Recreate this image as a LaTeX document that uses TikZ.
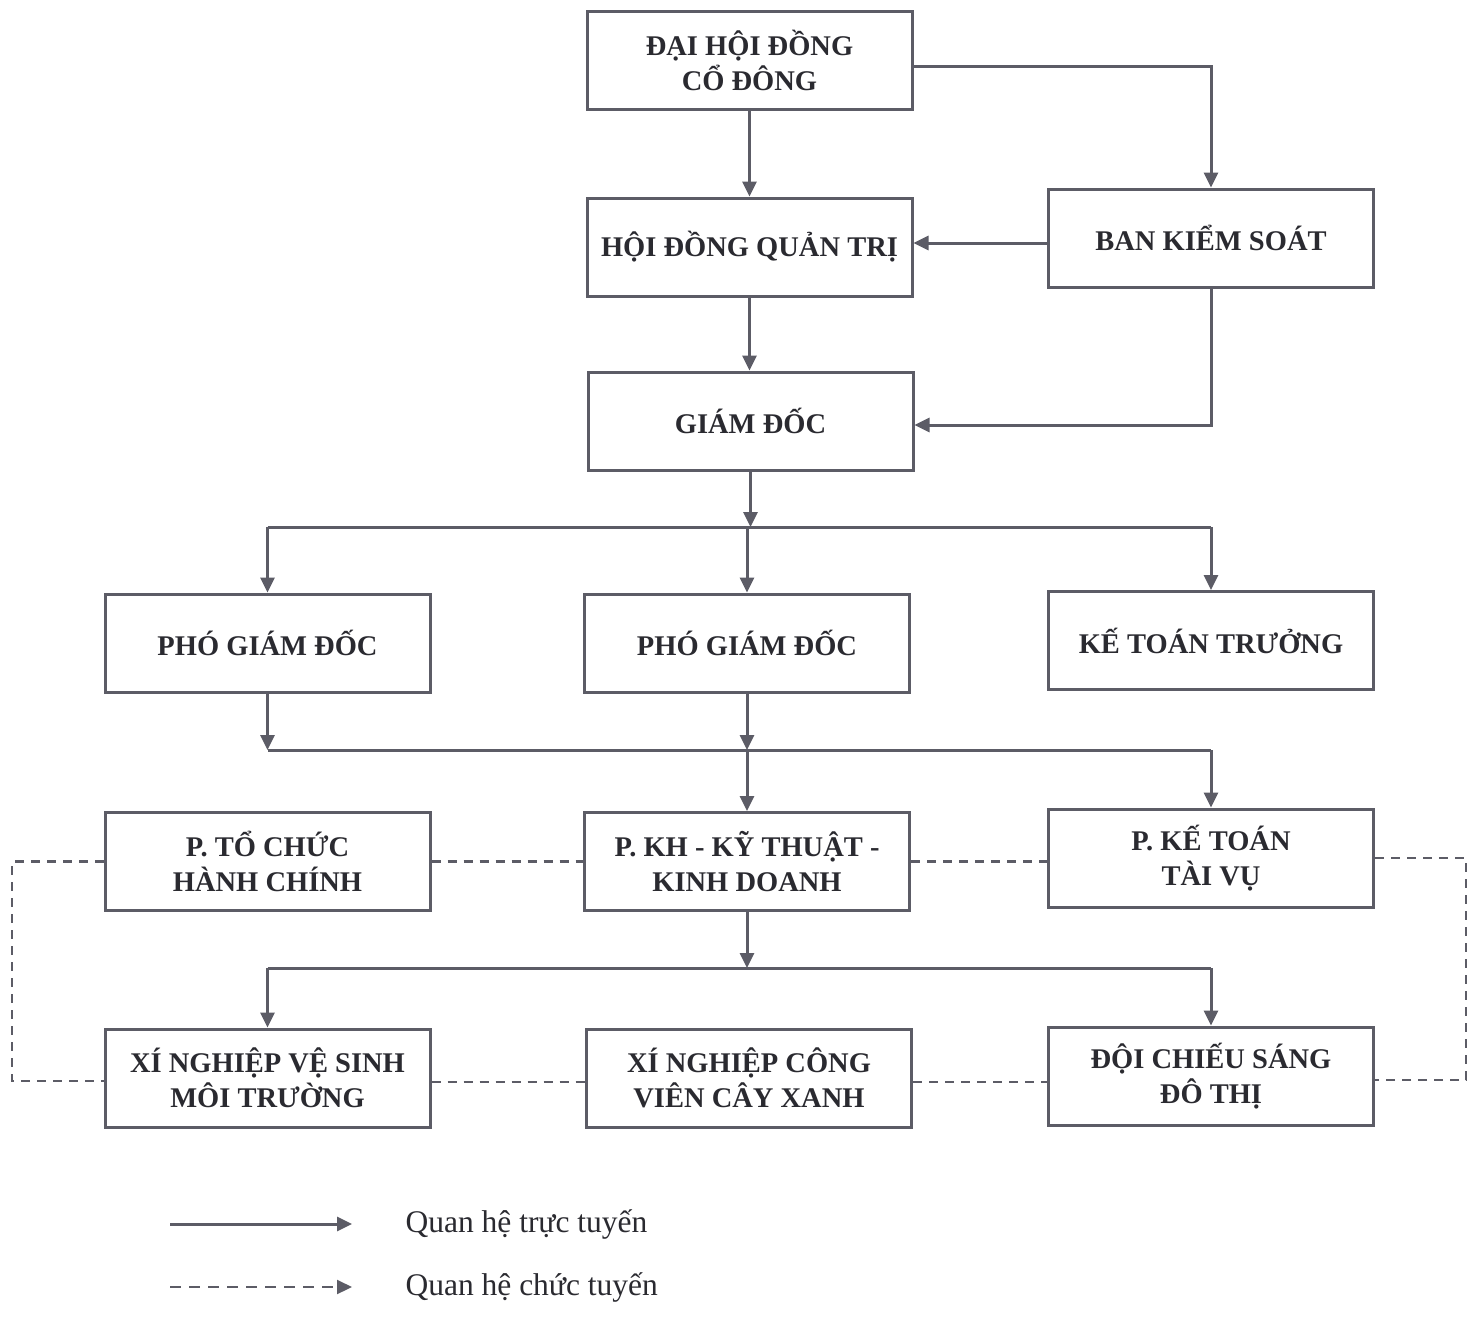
\documentclass[tikz,border=0pt]{standalone}
\usepackage{fontspec}
\setmainfont{Liberation Serif}
\usetikzlibrary{arrows.meta}
\definecolor{lc}{RGB}{92,92,102}
\definecolor{tc}{RGB}{42,42,48}
\tikzset{
  box/.style={draw=lc, line width=3pt, minimum width=325pt, minimum height=98pt, align=center, text=tc, font=\fontsize{28.5}{35}\selectfont\bfseries, inner sep=2pt},
  conn/.style={draw=lc, line width=3pt},
  arr/.style={conn, -{Triangle[length=15pt,width=14pt]}},
  dsh/.style={draw=lc, line width=2.2pt, dash pattern=on 9pt off 7pt},
  legtext/.style={anchor=west, text=tc, font=\fontsize{31.5}{38}\selectfont}
}
\begin{document}
\begin{tikzpicture}[x=1pt,y=-1pt]
\useasboundingbox (0,0) rectangle (1478,1317);
\fill[white] (0,0) rectangle (1478,1317);
\node[box] (dh) at (749.5,60.5) {ĐẠI HỘI ĐỒNG\\CỔ ĐÔNG};
\node[box] (hd) at (749.5,247) {HỘI ĐỒNG QUẢN TRỊ};
\node[box] (bks) at (1211,238) {BAN KIỂM SOÁT};
\node[box] (gd) at (750.5,421) {GIÁM ĐỐC};
\node[box] (pg1) at (267.5,643) {PHÓ GIÁM ĐỐC};
\node[box] (pg2) at (747,643) {PHÓ GIÁM ĐỐC};
\node[box] (ktt) at (1211,640.5) {KẾ TOÁN TRƯỞNG};
\node[box] (tcb) at (267.5,861.5) {P. TỔ CHỨC\\HÀNH CHÍNH};
\node[box] (kh) at (747,861.5) {P. KH - KỸ THUẬT -\\KINH DOANH};
\node[box] (kt) at (1211,858) {P. KẾ TOÁN\\TÀI VỤ};
\node[box] (xn1) at (267.5,1078) {XÍ NGHIỆP VỆ SINH\\MÔI TRƯỜNG};
\node[box] (xn2) at (749,1078) {XÍ NGHIỆP CÔNG\\VIÊN CÂY XANH};
\node[box] (dcs) at (1211,1076) {ĐỘI CHIẾU SÁNG\\ĐÔ THỊ};
\coordinate (b1) at (0,527);
\coordinate (b2) at (0,750);
\coordinate (b3) at (0,968);
\coordinate (lx) at (12,0);
\coordinate (rx) at (1466,0);
% top
\draw[arr] (dh.south) -- (hd.north);
\draw[arr] ([yshift=-6pt]dh.east) -| (bks.north);
\draw[arr] ([yshift=-5pt]bks.west) -- ([yshift=-5pt]bks.west -| hd.east);
\draw[arr] (hd.south) -- (hd.south |- gd.north);
\draw[arr] (bks.south) |- ([yshift=-4pt]gd.east);
% bus 1
\draw[arr] (gd.south) -- (gd.south |- b1);
\draw[conn] (pg1.north |- b1) -- (ktt.north |- b1);
\draw[arr] (pg1.north |- b1) -- (pg1.north);
\draw[arr] (pg2.north |- b1) -- (pg2.north);
\draw[arr] (ktt.north |- b1) -- (ktt.north);
% bus 2
\draw[arr] (pg1.south) -- (pg1.south |- b2);
\draw[conn] (pg1.south |- b2) -- (kt.north |- b2);
\draw[arr] (pg2.south) -- (pg2.south |- b2);
\draw[arr] (pg2.south |- b2) -- (kh.north);
\draw[arr] (kt.north |- b2) -- (kt.north);
% bus 3
\draw[arr] (kh.south) -- (kh.south |- b3);
\draw[conn] (xn1.north |- b3) -- (dcs.north |- b3);
\draw[arr] (xn1.north |- b3) -- (xn1.north);
\draw[arr] (dcs.north |- b3) -- (dcs.north);
% dashed
\draw[dsh] (tcb.east) -- (kh.west);
\draw[dsh] (kh.east) -- (kh.east -| kt.west);
\draw[dsh] (tcb.west) -- (tcb.west -| lx) |- ([yshift=-3pt]xn1.west);
\draw[dsh] (kt.east) -- (kt.east -| rx) |- ([yshift=-4pt]dcs.east);
\draw[dsh] ([yshift=-4pt]xn1.east) -- ([yshift=-4pt]xn2.west);
\draw[dsh] ([yshift=-4pt]xn2.east) -- ([yshift=-6pt]dcs.west);
% legend
\coordinate (l1a) at (170,1224);
\coordinate (l1b) at (352,1224);
\coordinate (l2a) at (170,1287);
\coordinate (l2b) at (352,1287);
\draw[arr] (l1a) -- (l1b);
\draw[dsh, dash pattern=on 11pt off 8pt, -{Triangle[length=15pt,width=14pt]}] (l2a) -- (l2b);
\node[legtext] (t1) at (402,1224) {Quan hệ trực tuyến};
\node[legtext] (t2) at (402,1287) {Quan hệ chức tuyến};
\end{tikzpicture}
\end{document}
